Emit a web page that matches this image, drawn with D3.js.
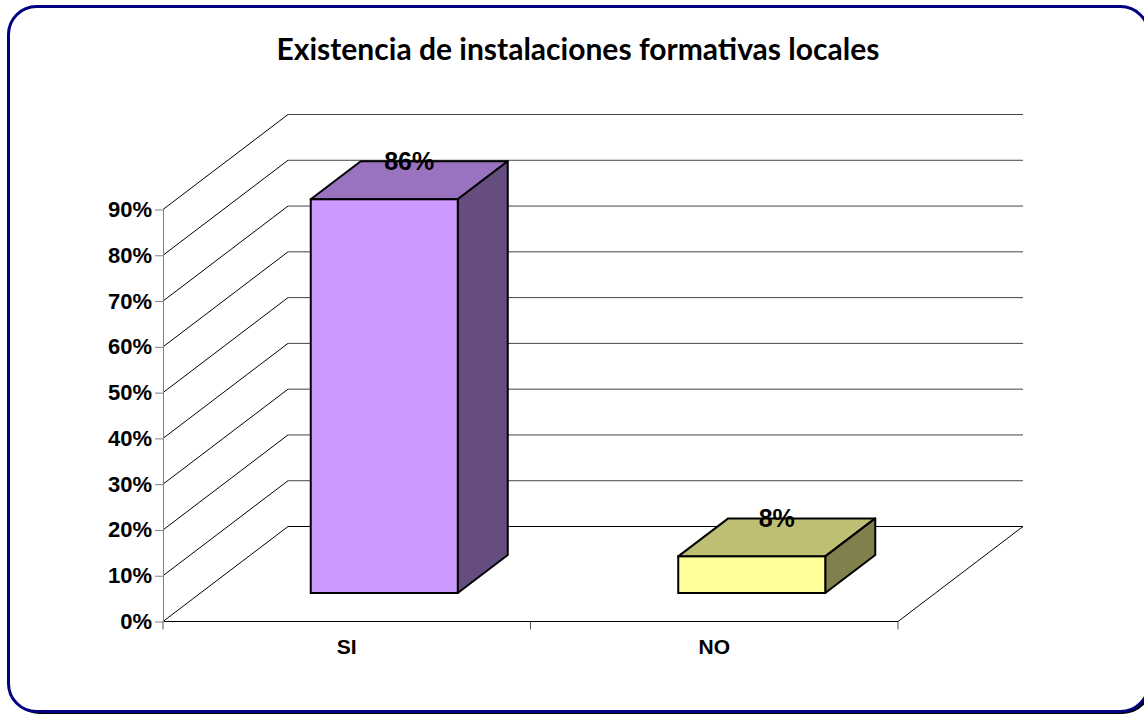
<!DOCTYPE html>
<html>
<head>
<meta charset="utf-8">
<script src="https://cdn.jsdelivr.net/npm/d3@7"></script>
<style>
  body { margin: 0; background: #fff; }
  svg { display: block; }
</style>
</head>
<body>
<div id="chart"></div>
<script>
var categories = ["SI", "NO"];
var values = [0.86, 0.08];
var yTicks = [0, 0.1, 0.2, 0.3, 0.4, 0.5, 0.6, 0.7, 0.8, 0.9];
var frontColors = ["#CC99FF", "#FFFF99"];
var topColors = ["#9973BF", "#BFBF73"];
var sideColors = ["#664D80", "#80804D"];
var title = "Existencia de instalaciones formativas locales";

var width = 1144, height = 715;
var depthX = 125, depthY = -95;

var svg = d3.select('#chart')
    .append('svg')
    .attr('width', width)
    .attr('height', height);

// frame with shadow
svg.append('rect')
    .attr('x', 11).attr('y', 9)
    .attr('width', 1140).attr('height', 705)
    .attr('rx', 28)
    .attr('fill', '#000');
svg.append('rect')
    .attr('x', 8.5).attr('y', 6.5)
    .attr('width', 1140).attr('height', 705)
    .attr('rx', 28)
    .attr('fill', '#fff')
    .attr('stroke', '#000080')
    .attr('stroke-width', 3);

var titleText = svg.append('text')
    .attr('x', 578)
    .attr('y', 60)
    .attr('text-anchor', 'middle')
    .style('font-family', 'Lato, "Open Sans", sans-serif')
    .style('font-weight', 'bold')
    .style('font-size', '28px')
    .text(title);
var tw = titleText.node().getComputedTextLength();
titleText.style('font-size', (28 * 603 / tw) + 'px');

var x = d3.scaleBand().domain(categories).range([163, 898]);
var y = d3.scaleLinear().domain([0, 0.9]).range([621.5, 209.5]);

// walls: diagonal side lines and back gridlines
var grid = svg.append('g');
yTicks.forEach(function(t) {
    grid.append('line')
        .attr('x1', x.range()[0]).attr('y1', y(t))
        .attr('x2', x.range()[0] + depthX).attr('y2', y(t) + depthY)
        .attr('stroke', '#000').attr('stroke-width', 1);
    grid.append('line')
        .attr('x1', x.range()[0] + depthX).attr('y1', y(t) + depthY)
        .attr('x2', x.range()[1] + depthX).attr('y2', y(t) + depthY)
        .attr('stroke', t === 0 ? '#000' : '#444').attr('stroke-width', 1);
});

// floor
grid.append('line')
    .attr('x1', x.range()[0]).attr('y1', y(0))
    .attr('x2', x.range()[1]).attr('y2', y(0))
    .attr('stroke', '#000');
grid.append('line')
    .attr('x1', x.range()[1]).attr('y1', y(0))
    .attr('x2', x.range()[1] + depthX).attr('y2', y(0) + depthY)
    .attr('stroke', '#000');

// category boundary ticks
var bounds = categories.map(function(c) { return x(c); }).concat([x.range()[1]]);
grid.selectAll('.btick').data(bounds).enter()
    .append('line')
    .attr('x1', d => d).attr('x2', d => d)
    .attr('y1', y(0)).attr('y2', y(0) + 8)
    .attr('stroke', '#555');

// y axis
var yAxis = svg.append('g')
    .attr('transform', 'translate(' + x.range()[0] + ',0)')
    .call(d3.axisLeft(y).tickValues(yTicks).tickFormat(d3.format('.0%')).tickSize(8).tickSizeOuter(0).tickPadding(3));
yAxis.select('.domain').attr('stroke', '#808080');
yAxis.selectAll('.tick line').attr('stroke', '#808080');
yAxis.selectAll('text')
    .style('font-family', '"Liberation Sans", Arial, sans-serif')
    .style('font-weight', 'bold')
    .style('font-size', '22px')
    .attr('fill', '#000');

// x axis labels
var xAxis = svg.append('g')
    .attr('transform', 'translate(0,' + y(0) + ')')
    .call(d3.axisBottom(x).tickSize(0).tickPadding(18));
xAxis.select('.domain').remove();
xAxis.selectAll('text')
    .style('font-family', '"Liberation Sans", Arial, sans-serif')
    .style('font-weight', 'bold')
    .style('font-size', '21px')
    .attr('fill', '#000');

// 3D bars
var bw = x.bandwidth() * 0.4;
var bdx = depthX * 0.4, bdy = depthY * 0.4;
var bars = svg.selectAll('.bar').data(values).enter().append('g');
bars.each(function(v, i) {
    var g = d3.select(this);
    var x0 = x(categories[i]) + x.bandwidth() * 0.3 + depthX * 0.3;
    var yb = y(0) + depthY * 0.3;
    var yt = y(v) + depthY * 0.3;
    g.append('polygon')
        .attr('points', [[x0, yt], [x0 + bdx, yt + bdy], [x0 + bw + bdx, yt + bdy], [x0 + bw, yt]].join(' '))
        .attr('fill', topColors[i]).attr('stroke', '#000').attr('stroke-width', 2).attr('stroke-linejoin', 'round');
    g.append('polygon')
        .attr('points', [[x0 + bw, yt], [x0 + bw + bdx, yt + bdy], [x0 + bw + bdx, yb + bdy], [x0 + bw, yb]].join(' '))
        .attr('fill', sideColors[i]).attr('stroke', '#000').attr('stroke-width', 2).attr('stroke-linejoin', 'round');
    g.append('rect')
        .attr('x', x0).attr('y', yt)
        .attr('width', bw).attr('height', yb - yt)
        .attr('fill', frontColors[i]).attr('stroke', '#000').attr('stroke-width', 2);
    g.append('text')
        .attr('x', x0 + (bw + bdx) / 2)
        .attr('y', yt + bdy)
        .attr('dy', '0.36em')
        .attr('text-anchor', 'middle')
        .style('font-family', '"Liberation Sans", Arial, sans-serif')
        .style('font-weight', 'bold')
        .style('font-size', '25px')
        .text(d3.format('.0%')(v));
});
</script>
</body>
</html>
